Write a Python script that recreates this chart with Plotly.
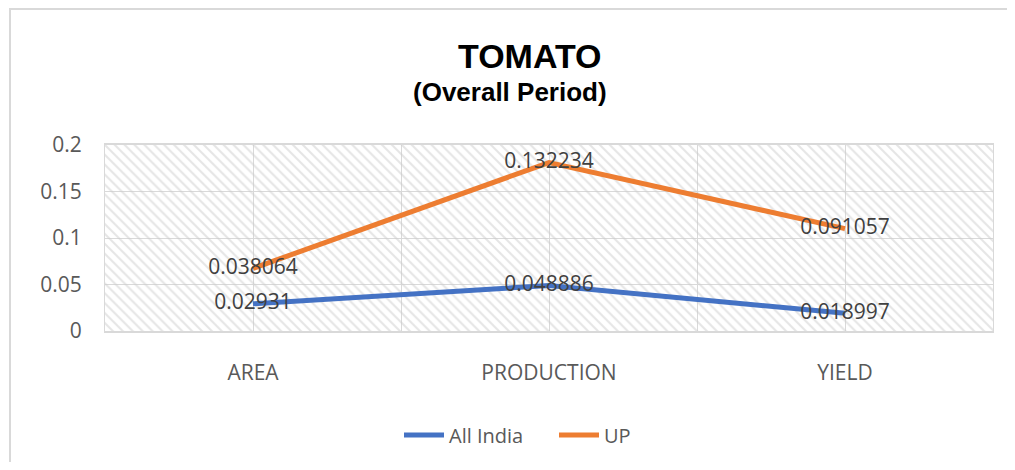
import plotly.graph_objects as go

# ---- data ----
categories = ["AREA", "PRODUCTION", "YIELD"]
all_india = [0.02931, 0.048886, 0.018997]
up = [0.038064, 0.132234, 0.091057]
y_ticks = [0, 0.05, 0.1, 0.15, 0.2]

# ---- layout geometry (screen pixels; page body has an 8px margin) ----
OFF = 8
W, H = 1015 - 2 * OFF, 470 - 2 * OFF
PL, PT, PR, PB = 105, 145, 993, 331          # plot area on screen
L, T = PL - OFF, PT - OFF
PW, PH = PR - PL, PB - PT
R, B = W - L - PW, H - T - PH

def px(x):
    return (x - PL) / PW

def py(y):
    return 1 + (PT - y) / PH

xpos = list(range(len(categories)))
xr = [-0.5, len(categories) - 0.5]
yr = [y_ticks[0], y_ticks[-1]]

fig = go.Figure()

# hatched plot-area background
fig.add_trace(go.Scatter(
    x=[xr[0], xr[1], xr[1], xr[0], xr[0]],
    y=[yr[0], yr[0], yr[1], yr[1], yr[0]],
    mode="none", fill="toself", fillcolor="rgba(0,0,0,0)",
    fillpattern=dict(shape="\\", fgcolor="#cccccc", bgcolor="rgba(0,0,0,0)",
                     size=7, solidity=0.3),
    hoverinfo="skip", showlegend=False,
))

label_font = dict(family="Open Sans", size=21, color="#404040")

fig.add_trace(go.Scatter(
    x=xpos, y=all_india, name="All India", mode="lines+text",
    stackgroup="s", fill="none",
    line=dict(color="#4472C4", width=5),
    text=[str(v) for v in all_india], textposition="middle center",
    textfont=label_font,
))
fig.add_trace(go.Scatter(
    x=xpos, y=up, name="UP", mode="lines+text",
    stackgroup="s", fill="none",
    line=dict(color="#ED7D31", width=5),
    text=[str(v) for v in up], textposition="middle center",
    textfont=label_font,
))

grid = "#d9d9d9"
fig.update_xaxes(
    range=xr, tickmode="array", tickvals=xpos, ticktext=categories,
    showgrid=True, gridcolor=grid, gridwidth=1,
    minor=dict(tickmode="array", tickvals=[-0.5, 0.5, 1.5, 2.5],
               showgrid=True, gridcolor=grid, gridwidth=1),
    showline=True, linecolor=grid, linewidth=2, mirror=True,
    zeroline=False, ticks="", ticklabelstandoff=22,
    tickfont=dict(family="Open Sans", size=21, color="#595959"),
)
fig.update_yaxes(
    range=yr, tickmode="array", tickvals=y_ticks,
    ticktext=[f"{v:g}" for v in y_ticks],
    showgrid=True, gridcolor=grid, gridwidth=1,
    showline=True, linecolor=grid, linewidth=1, mirror=True,
    zeroline=False, ticks="", ticklabelstandoff=18,
    tickfont=dict(family="Open Sans", size=21, color="#595959"),
)

border = dict(color="#d9d9d9", width=2)
shapes = [
    # chart area border (top and left edges visible)
    dict(type="line", xref="paper", yref="paper",
         x0=px(9), x1=px(1030), y0=py(9), y1=py(9), line=border, layer="below"),
    dict(type="line", xref="paper", yref="paper",
         x0=px(10), x1=px(10), y0=py(9), y1=py(480), line=border, layer="below"),
]

fig.update_layout(
    width=W, height=H,
    margin=dict(l=L, r=R, t=T, b=B, autoexpand=False),
    paper_bgcolor="white", plot_bgcolor="white",
    showlegend=True,
    legend=dict(orientation="h", x=px(554), y=py(435), xanchor="center",
                yanchor="middle", font=dict(family="Open Sans", size=20,
                                            color="#595959"),
                entrywidth=100, entrywidthmode="pixels",
                itemwidth=40, tracegroupgap=0),
    annotations=[
        dict(text="<b>TOMATO</b>", xref="paper", yref="paper",
             x=px(530), y=py(56), xanchor="center", yanchor="middle",
             showarrow=False,
             font=dict(family="Liberation Sans", size=34, color="black")),
        dict(text="<b>(Overall Period)</b>", xref="paper", yref="paper",
             x=px(510), y=py(92), xanchor="center", yanchor="middle",
             showarrow=False,
             font=dict(family="Liberation Sans", size=26, color="black")),
    ],
    shapes=shapes,
)

fig.write_html("out.html")
